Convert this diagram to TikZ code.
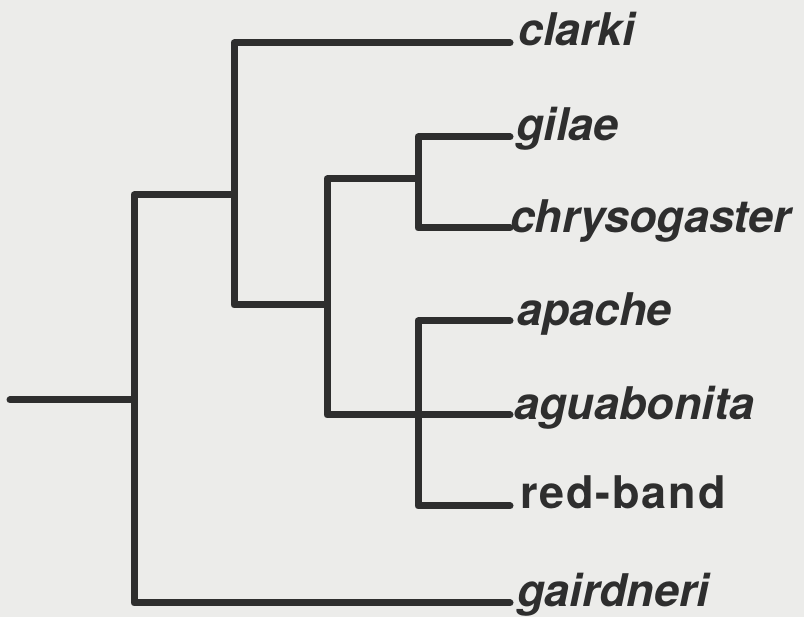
\documentclass[tikz,border=0pt]{standalone}
\usepackage{fontspec}
\setmainfont{TeX Gyre Heros}
\begin{document}
\begin{tikzpicture}[x=1pt,y=-1pt,
  branch/.style={draw=inkgray, line width=7pt, line cap=round, line join=round},
  leaf/.style={anchor=base west, inner sep=0pt, text=inkgray,
    font=\fontsize{45}{54}\selectfont\bfseries\itshape},
  leafup/.style={leaf, font=\fontsize{45}{54}\selectfont\bfseries\addfontfeature{LetterSpace=4}}]
\definecolor{inkgray}{HTML}{2E2E2E}
\definecolor{paper}{HTML}{ECECEA}
\fill[paper] (0,0) rectangle (804,617);
\useasboundingbox (0,0) rectangle (804,617);

% internal nodes of the tree
\coordinate (root) at (10,400);
\coordinate (n1) at (134,400);
\coordinate (n2) at (234,195);
\coordinate (n3) at (327,305);
\coordinate (n4) at (418,179);
\coordinate (n5) at (418,415);

% tips of the branches
\coordinate (eClarki) at (510,43);
\coordinate (eGilae) at (510,137);
\coordinate (eChrys) at (510,228);
\coordinate (eApache) at (510,321);
\coordinate (eAgua) at (510,415);
\coordinate (eRed) at (510,506);
\coordinate (eGair) at (510,603);

% taxon labels
\node[leaf] (clarki) at (518,46) {clarki};
\node[leaf] (gilae) at (516,141) {gilae};
\node[leaf] (chrys) at (510,233) {chrysogaster};
\node[leaf] (apache) at (517,326) {apache};
\node[leaf] (agua) at (514,420) {aguabonita};
\node[leafup] (red) at (520,509) {red-band};
\node[leaf] (gair) at (517,607) {gairdneri};

% branches
\draw[branch] (root) -- (n1);
\draw[branch] (n1) |- (n2);
\draw[branch] (n1) |- (eGair);
\draw[branch] (n2) |- (eClarki);
\draw[branch] (n2) |- (n3);
\draw[branch] (n3) |- (n4);
\draw[branch] (n3) |- (eAgua);
\draw[branch] (n4) |- (eGilae);
\draw[branch] (n4) |- (eChrys);
\draw[branch] (n5) |- (eApache);
\draw[branch] (n5) |- (eRed);
\end{tikzpicture}
\end{document}
